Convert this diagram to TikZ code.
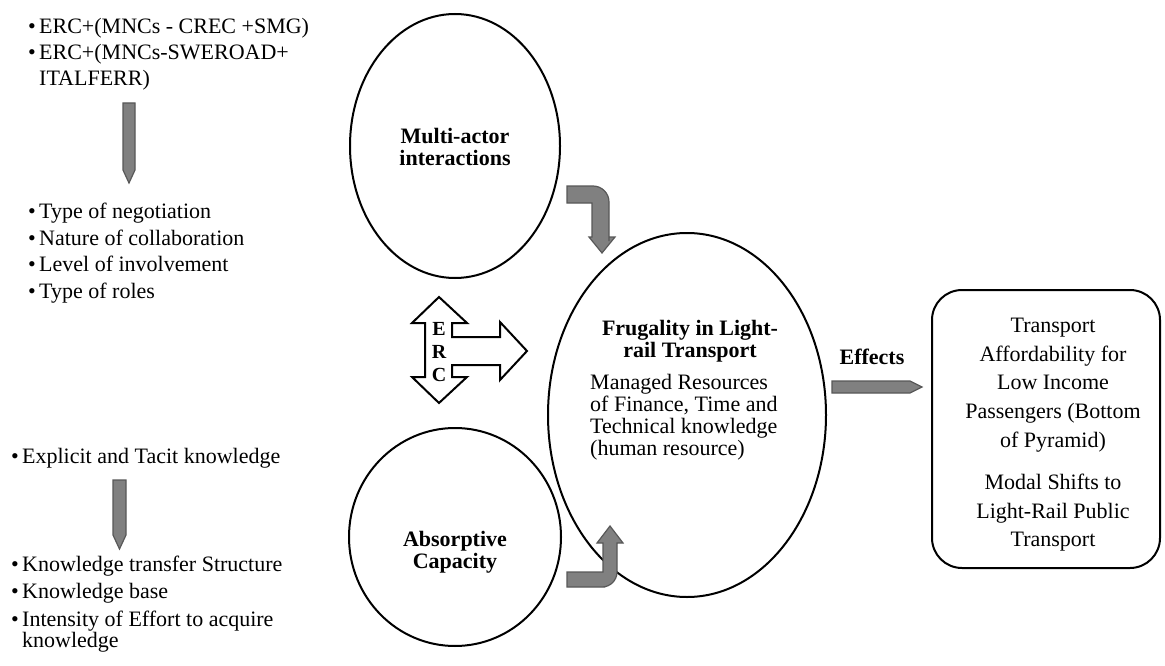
\documentclass[tikz,border=0pt]{standalone}
\usepackage{fontspec}
\setmainfont{Liberation Serif}
\usetikzlibrary{shapes.geometric}
\definecolor{arrfill}{RGB}{128,128,128}
\definecolor{arrdraw}{RGB}{88,88,88}
\newcommand{\bul}{\makebox[11pt][l]{•}}
\begin{document}
\begin{tikzpicture}[x=1pt,y=-1pt,
  oval/.style={ellipse, draw=black, line width=2pt, inner sep=0pt},
  txt/.style={inner sep=0pt, font=\fontsize{22}{26.5}\selectfont, align=left},
  btxt/.style={inner sep=0pt, font=\fontsize{22}{22}\selectfont\bfseries, align=center},
  ltr/.style={inner sep=0pt, font=\fontsize{20}{20}\selectfont\bfseries},
  blockarrow/.style={fill=arrfill, draw=arrdraw, line width=1.2pt, line join=miter},
  outlinearrow/.style={fill=white, draw=black, line width=2pt, line join=miter}
  ]
\useasboundingbox (0,0) rectangle (1165,666);

% ellipses
\node[oval, minimum width=210pt, minimum height=264pt] (multi) at (455,146) {};
\node[btxt] (multit) at (455,147) {Multi-actor\\interactions};
\node[oval, minimum width=212pt, minimum height=218pt] (absorb) at (455,537) {};
\node[btxt] (absorbt) at (455,552) {Absorptive\\Capacity};
\node[oval, minimum width=278pt, minimum height=364pt] (frug) at (687,415) {};
\node[btxt] (frugt) at (690,341) {Frugality in Light-\\rail Transport};
% anchor base west = baseline of the last line
\node[txt, anchor=base west, font=\fontsize{22}{22}\selectfont] (frugb) at (590,455)
  {Managed Resources\\of Finance, Time and\\Technical knowledge\\(human resource)};

% result box
\node[draw=black, line width=2pt, rounded corners=30pt, minimum width=228pt, minimum height=278pt, inner sep=0pt] (res) at (1046,429) {};
\node[txt, align=center, font=\fontsize{22}{28.6}\selectfont] (rest) at (1053,435)
  {Transport\\Affordability for\\Low Income\\Passengers (Bottom\\of Pyramid)\\[14pt]Modal Shifts to\\Light-Rail Public\\Transport};

% left texts (anchored at the baseline of their last line)
\node[txt, anchor=base west, font=\fontsize{22}{26}\selectfont] (erc) at (28,86)
  {\bul ERC+(MNCs - CREC +SMG)\\\bul ERC+(MNCs-SWEROAD+\\\hspace{11pt}ITALFERR)};
\node[txt, anchor=base west] (types) at (28,298)
  {\bul Type of negotiation\\\bul Nature of collaboration\\\bul Level of involvement\\\bul Type of roles};
\node[txt, anchor=base west] (expl) at (11,463) {\bul Explicit and Tacit knowledge};
\node[txt, anchor=base west, font=\fontsize{22}{27.5}\selectfont] (know) at (11,647)
  {\bul Knowledge transfer Structure\\\bul Knowledge base\\\bul Intensity of Effort to acquire\\[-6.5pt]\hspace{11pt}knowledge};

% gray down arrows
\draw[blockarrow] (123,103) -- (135,103) -- (135,170) -- (129,183) -- (123,170) -- cycle;
\draw[blockarrow] (113,480) -- (126,480) -- (126,535) -- (119.5,549) -- (113,535) -- cycle;

% curved arrows
\draw[blockarrow] (567,186) -- (580,186) [rounded corners=16pt] -- (609,186) -- (609,225) [sharp corners] -- (609,237)
  -- (615,237) -- (602,253) -- (589,237) -- (592,237) -- (592,203) -- (567,203) -- cycle;
\draw[blockarrow] (567,572) -- (603,572) -- (603,543) -- (597,543) -- (610,526) -- (623,543) -- (617,543)
  -- (617,560) [rounded corners=15pt] -- (617,587) -- (590,587) [sharp corners] -- (567,587) -- cycle;

% effects arrow
\draw[blockarrow] (832,381) -- (910,381) -- (922,387) -- (910,393) -- (832,393) -- cycle;
\node[btxt] (eff) at (872,357) {Effects};

% ERC outlined arrow
\draw[outlinearrow] (439,297) -- (467,323) -- (452,323) -- (452,337) -- (500,337) -- (500,322) -- (527,351)
  -- (500,380) -- (500,365) -- (452,365) -- (452,377) -- (467,377) -- (439,403) -- (412,377) -- (425,377)
  -- (425,323) -- (412,323) -- cycle;
\node[ltr] (le) at (439,329) {E};
\node[ltr] (lr) at (439,352) {R};
\node[ltr] (lc) at (439,375) {C};
\end{tikzpicture}
\end{document}
